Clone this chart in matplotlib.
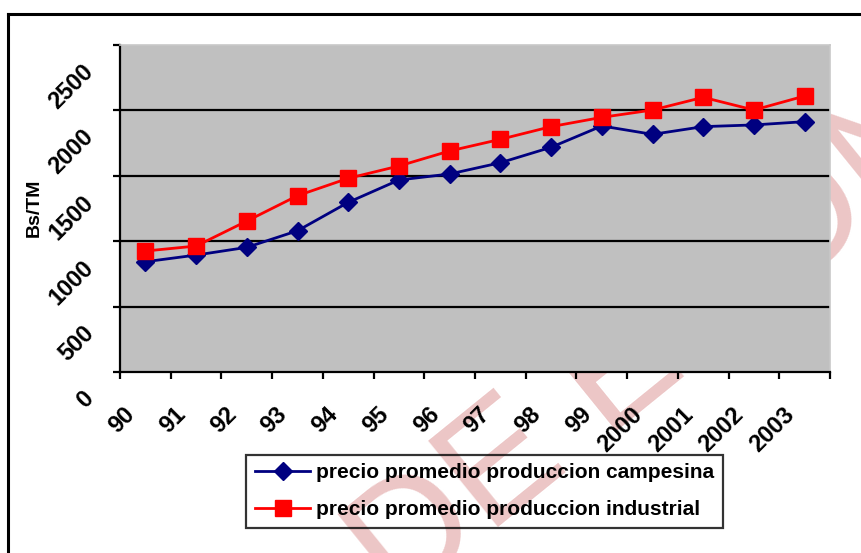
import matplotlib
matplotlib.use("Agg")
import matplotlib.pyplot as plt
from matplotlib.lines import Line2D
from matplotlib.transforms import offset_copy

# data
years = ["90", "91", "92", "93", "94", "95", "96", "97", "98", "99",
         "2000", "2001", "2002", "2003"]
campesina = [843, 894, 953, 1080, 1297, 1468, 1514, 1600, 1718, 1881,
             1817, 1876, 1889, 1914]
industrial = [925, 963, 1154, 1348, 1481, 1575, 1690, 1779, 1876, 1947,
              2003, 2100, 2003, 2110]
y_ticks = [0, 500, 1000, 1500, 2000, 2500]

label_campesina = "precio promedio produccion campesina"
label_industrial = "precio promedio produccion industrial"


def main():
    plt.rcParams['font.family'] = ['Liberation Sans', 'DejaVu Sans']

    fig = plt.figure(figsize=(8.61, 5.53), dpi=100)
    ax = fig.add_axes([0.1394, 0.3273, 0.8246, 0.5913])

    # pale watermark behind everything
    fig.text(0.462, -0.10, "DE ECON", fontsize=116, rotation=39,
             rotation_mode='anchor', ha='left', va='baseline',
             color='#ECC6C6', zorder=-5)

    # outer chart border (left and top only visible)
    fig.add_artist(Line2D([8 / 861, 8 / 861], [0, 1 - 14 / 553],
                          color='black', lw=2.2, transform=fig.transFigure))
    fig.add_artist(Line2D([8 / 861, 1], [1 - 14 / 553, 1 - 14 / 553],
                          color='black', lw=2.2, transform=fig.transFigure))

    x = list(range(len(years)))
    ax.set_facecolor('#C0C0C0')

    # horizontal gridlines
    for v in y_ticks[1:-1]:
        ax.axhline(v, color='black', lw=1.6, zorder=1)

    l1, = ax.plot(x, campesina, color='#000080', lw=2, marker='D', ms=9,
                  zorder=3)
    l2, = ax.plot(x, industrial, color='#FF0000', lw=2, marker='s', ms=11,
                  zorder=3)

    ax.set_xlim(-0.5, len(years) - 0.5)
    ax.set_ylim(0, 2500)

    ax.set_xticks([i - 0.5 for i in range(len(years) + 1)])
    ax.set_xticklabels([])
    ax.set_yticks(y_ticks)
    ax.set_yticklabels([])
    ax.tick_params(direction='out', length=5, width=1.6, color='black')

    for s in ['left', 'bottom']:
        ax.spines[s].set_color('black')
        ax.spines[s].set_linewidth(1.6)
    for s in ['top', 'right']:
        ax.spines[s].set_color('#C8C8C8')
        ax.spines[s].set_linewidth(1.2)

    # rotated category labels
    xtrans = offset_copy(ax.get_xaxis_transform(), fig=fig, x=-22, y=-31,
                         units='dots')
    for i, yr in enumerate(years):
        ax.text(i, 0, yr, transform=xtrans, rotation=45, rotation_mode='anchor',
                ha='right', va='top', fontsize=17, fontweight='bold')

    # rotated value labels
    ytrans = offset_copy(ax.get_yaxis_transform(), fig=fig, x=-38, y=-15,
                         units='dots')
    for v in y_ticks:
        ax.text(0, v, str(v), transform=ytrans, rotation=45,
                rotation_mode='anchor', ha='right', va='top', fontsize=17,
                fontweight='bold')

    fig.text(34 / 861, 1 - 208 / 553, "Bs/TM", rotation=90, ha='center',
             va='center', fontsize=14, fontweight='bold')

    leg = fig.legend([l1, l2], [label_campesina, label_industrial],
                     loc='center', bbox_to_anchor=(0.563, 0.112),
                     fancybox=False, edgecolor='black', facecolor='none',
                     prop={'size': 15, 'weight': 'bold'}, handlelength=2.65,
                     handletextpad=0.3, labelspacing=0.84, borderpad=0.42)
    leg.get_frame().set_linewidth(1.6)

    fig.savefig("out.png", dpi=100)


if __name__ == "__main__":
    main()
